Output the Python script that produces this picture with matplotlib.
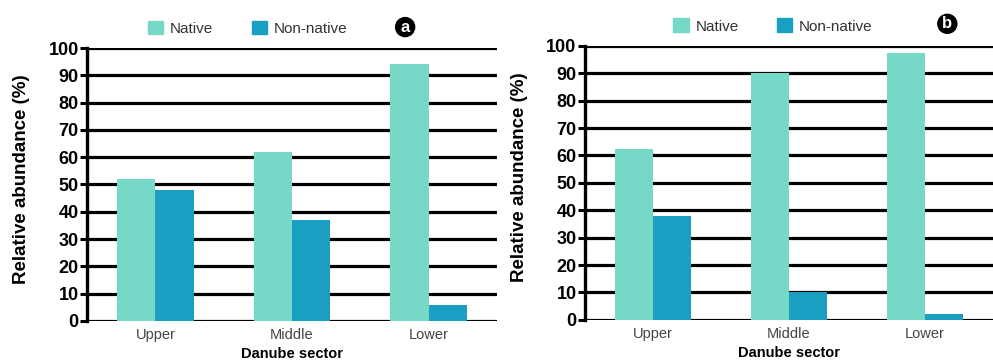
import numpy as np
import matplotlib
matplotlib.use("Agg")
import matplotlib.pyplot as plt

plt.rcParams['font.family'] = ['Liberation Sans', 'DejaVu Sans']

sectors = ['Upper', 'Middle', 'Lower']
native_a = [52, 62, 94]
non_native_a = [48, 37, 6]
native_b = [62.5, 90, 97.5]
non_native_b = [38, 10, 2.3]
y_ticks = list(range(0, 101, 10))

NATIVE_COLOR = '#76d9c8'
NON_NATIVE_COLOR = '#199fc1'


def draw_panel(fig, ax, native, non_native, letter, legend_xy, letter_xy):
    x = np.arange(len(sectors))
    w = 0.28
    ax.bar(x - w / 2, native, width=w, color=NATIVE_COLOR, zorder=3)
    ax.bar(x + w / 2, non_native, width=w, color=NON_NATIVE_COLOR, zorder=3)

    ax.set_xlim(-0.5, 2.5)
    ax.set_ylim(0, 100)
    ax.set_yticks(y_ticks)
    ax.set_yticklabels([str(t) for t in y_ticks], fontsize=13, fontweight='bold')
    ax.set_xticks(x)
    ax.set_xticklabels(sectors, fontsize=10.5, color='#444444')
    ax.tick_params(axis='x', length=0, pad=5)
    ax.tick_params(axis='y', length=5, width=2.2, pad=1)

    for t in y_ticks:
        ax.axhline(t, color='black', linewidth=2.3, zorder=1)

    for side in ['top', 'right', 'bottom']:
        ax.spines[side].set_visible(False)
    ax.spines['left'].set_linewidth(2.4)
    ax.spines['left'].set_zorder(4)

    ax.set_ylabel('Relative abundance (%)', fontsize=13.5, fontweight='bold')
    ax.yaxis.set_label_coords(-0.14, 0.52)
    ax.set_xlabel('Danube sector', fontsize=10.5, fontweight='bold', labelpad=4)

    # legend row above the plot
    ax.legend(handles=[plt.Rectangle((0, 0), 1, 1, color=NATIVE_COLOR),
                       plt.Rectangle((0, 0), 1, 1, color=NON_NATIVE_COLOR)],
              labels=['Native', 'Non-native'], ncol=2, frameon=False,
              loc='center left', bbox_to_anchor=legend_xy,
              bbox_transform=fig.transFigure, fontsize=11,
              handlelength=1.0, handleheight=1.0, columnspacing=2.5,
              handletextpad=0.45, borderpad=0, borderaxespad=0,
              labelcolor='#333333')
    fig.text(letter_xy[0], letter_xy[1], letter, ha='center', va='center',
             color='white', fontsize=12, fontweight='bold',
             bbox=dict(boxstyle='circle,pad=0.12', fc='black', ec='black'))


fig = plt.figure(figsize=(9.93, 3.61), dpi=100)
ax_a = fig.add_axes([0.0876, 0.111, 0.413, 0.756])
ax_b = fig.add_axes([0.589, 0.114, 0.411, 0.759])

draw_panel(fig, ax_a, native_a, non_native_a, 'a', (0.149, 0.922), (0.408, 0.925))
draw_panel(fig, ax_b, native_b, non_native_b, 'b', (0.678, 0.928), (0.954, 0.934))

fig.savefig('out.png', dpi=100)
